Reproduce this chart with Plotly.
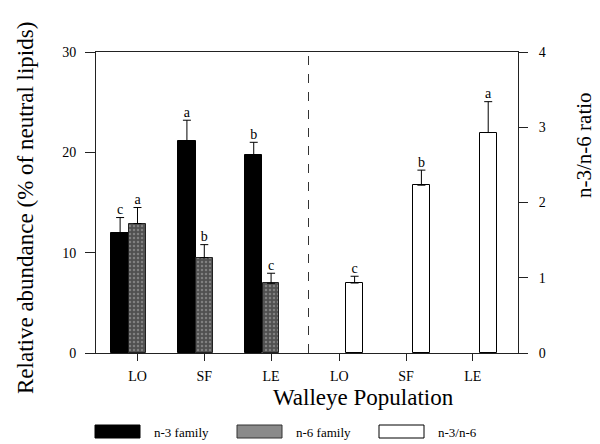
import plotly.graph_objects as go

# ---- data ----
populations = ["LO", "SF", "LE"]
n3_family = [12.0, 21.1, 19.7]
n3_err = [1.5, 2.1, 1.3]
n3_letters = ["c", "a", "b"]
n6_family = [12.9, 9.5, 6.95]
n6_err = [1.6, 1.3, 1.0]
n6_letters = ["a", "b", "c"]
ratio = [0.93, 2.23, 2.93]
ratio_err = [0.09, 0.20, 0.41]
ratio_letters = ["c", "b", "a"]

FONT = "Liberation Serif"

# slot positions on a numeric x axis
left_center = [i for i in range(len(populations))]
n3_x = [c - 0.13 for c in left_center]
n6_x = [c + 0.13 for c in left_center]
right_tick = [3.15 + i for i in range(len(populations))]
ratio_x = [t + 0.23 for t in right_tick]

N6_PATTERN = dict(shape=".", fgcolor="#b0b0b0", bgcolor="#505050", size=4, solidity=0.3)

fig = go.Figure()

fig.add_trace(go.Bar(
    x=n3_x, y=n3_family, width=0.26, name="n-3 family",
    marker=dict(color="black", line=dict(color="black", width=1)),
    error_y=dict(type="data", array=n3_err, arrayminus=[0]*3, color="black", thickness=1, width=4),
    showlegend=False, yaxis="y"))
fig.add_trace(go.Bar(
    x=n6_x, y=n6_family, width=0.25, name="n-6 family",
    marker=dict(color="#6a6a6a", line=dict(color="#222", width=1), pattern=N6_PATTERN),
    error_y=dict(type="data", array=n6_err, arrayminus=[0]*3, color="black", thickness=1, width=4),
    showlegend=False, yaxis="y"))
fig.add_trace(go.Bar(
    x=ratio_x, y=ratio, width=0.25, name="n-3/n-6",
    marker=dict(color="white", line=dict(color="black", width=1)),
    error_y=dict(type="data", array=ratio_err, arrayminus=[0]*3, color="black", thickness=1, width=4),
    showlegend=False, yaxis="y2"))

# significance letters
fig.add_trace(go.Scatter(
    x=n3_x + n6_x, y=[v + e for v, e in zip(n3_family, n3_err)] + [v + e for v, e in zip(n6_family, n6_err)],
    text=n3_letters + n6_letters, mode="text", textposition="top center",
    textfont=dict(family=FONT, size=14, color="black"), showlegend=False, yaxis="y", cliponaxis=False))
fig.add_trace(go.Scatter(
    x=ratio_x, y=[v + e for v, e in zip(ratio, ratio_err)],
    text=ratio_letters, mode="text", textposition="top center",
    textfont=dict(family=FONT, size=14, color="black"), showlegend=False, yaxis="y2", cliponaxis=False))

# dashed separator between panels
fig.add_shape(type="line", xref="x", yref="paper", x0=2.69, x1=2.69, y0=0, y1=1,
              line=dict(color="#333", width=1, dash="dash"))

fig.update_layout(
    width=592, height=436,
    margin=dict(l=88, r=82, t=44, b=91),
    plot_bgcolor="white", paper_bgcolor="white",
    font=dict(family=FONT, color="black"),
    bargap=0,
    xaxis=dict(range=[-0.491, 5.826], tickmode="array",
               tickvals=n6_x + right_tick, ticktext=populations + populations,
               ticks="outside", ticklen=7, tickcolor="#222", ticklabelstandoff=3,
               tickfont=dict(family=FONT, size=14),
               showline=True, linecolor="#222", mirror=True, showgrid=False, zeroline=False),
    yaxis=dict(range=[0, 30], tickvals=[0, 10, 20, 30], ticks="outside", ticklen=10,
               tickcolor="#222", ticklabelstandoff=6, tickfont=dict(family=FONT, size=14),
               showline=True, linecolor="#222", showgrid=False, zeroline=False),
    yaxis2=dict(range=[0, 4], tickvals=[0, 1, 2, 3, 4], overlaying="y", side="right",
                ticks="outside", ticklen=9, tickcolor="#222", ticklabelstandoff=8,
                tickfont=dict(family=FONT, size=14),
                showline=True, linecolor="#222", showgrid=False, zeroline=False),
)

# plot area in reference pixels: left 96, right 518, top 52, bottom 353
PL, PW, PB, PH = 96, 422, 353, 301
def px(x):
    return (x - PL) / PW
def py(y):
    return (PB - y) / PH

# axis titles
fig.add_annotation(text="Relative abundance (% of neutral lipids)", xref="paper", yref="paper",
                   x=px(25), y=py(208), showarrow=False, textangle=-90,
                   font=dict(family=FONT, size=23), xanchor="center", yanchor="middle")
fig.add_annotation(text="n-3/n-6 ratio", xref="paper", yref="paper",
                   x=px(584), y=py(145), showarrow=False, textangle=-90,
                   font=dict(family=FONT, size=21), xanchor="center", yanchor="middle")
fig.add_annotation(text="Walleye Population", xref="paper", yref="paper",
                   x=px(363), y=py(397), showarrow=False,
                   font=dict(family=FONT, size=23), xanchor="center", yanchor="middle")

# legend drawn below the plot
legend_items = [
    ("n-3 family", "black", "black"),
    ("n-6 family", "#8a8a8a", "#333"),
    ("n-3/n-6", "white", "black"),
]
box_left = [95, 237, 379]
for (label, fill, edge), bx in zip(legend_items, box_left):
    fig.add_shape(type="rect", xref="paper", yref="paper", x0=px(bx), x1=px(bx + 45),
                  y0=py(438), y1=py(425), line=dict(color=edge, width=1), fillcolor=fill)
    fig.add_annotation(text=label, xref="paper", yref="paper", x=px(bx + 57),
                       y=py(432), showarrow=False, xanchor="left", yanchor="middle",
                       font=dict(family=FONT, size=13))

fig.write_html("out.html")
